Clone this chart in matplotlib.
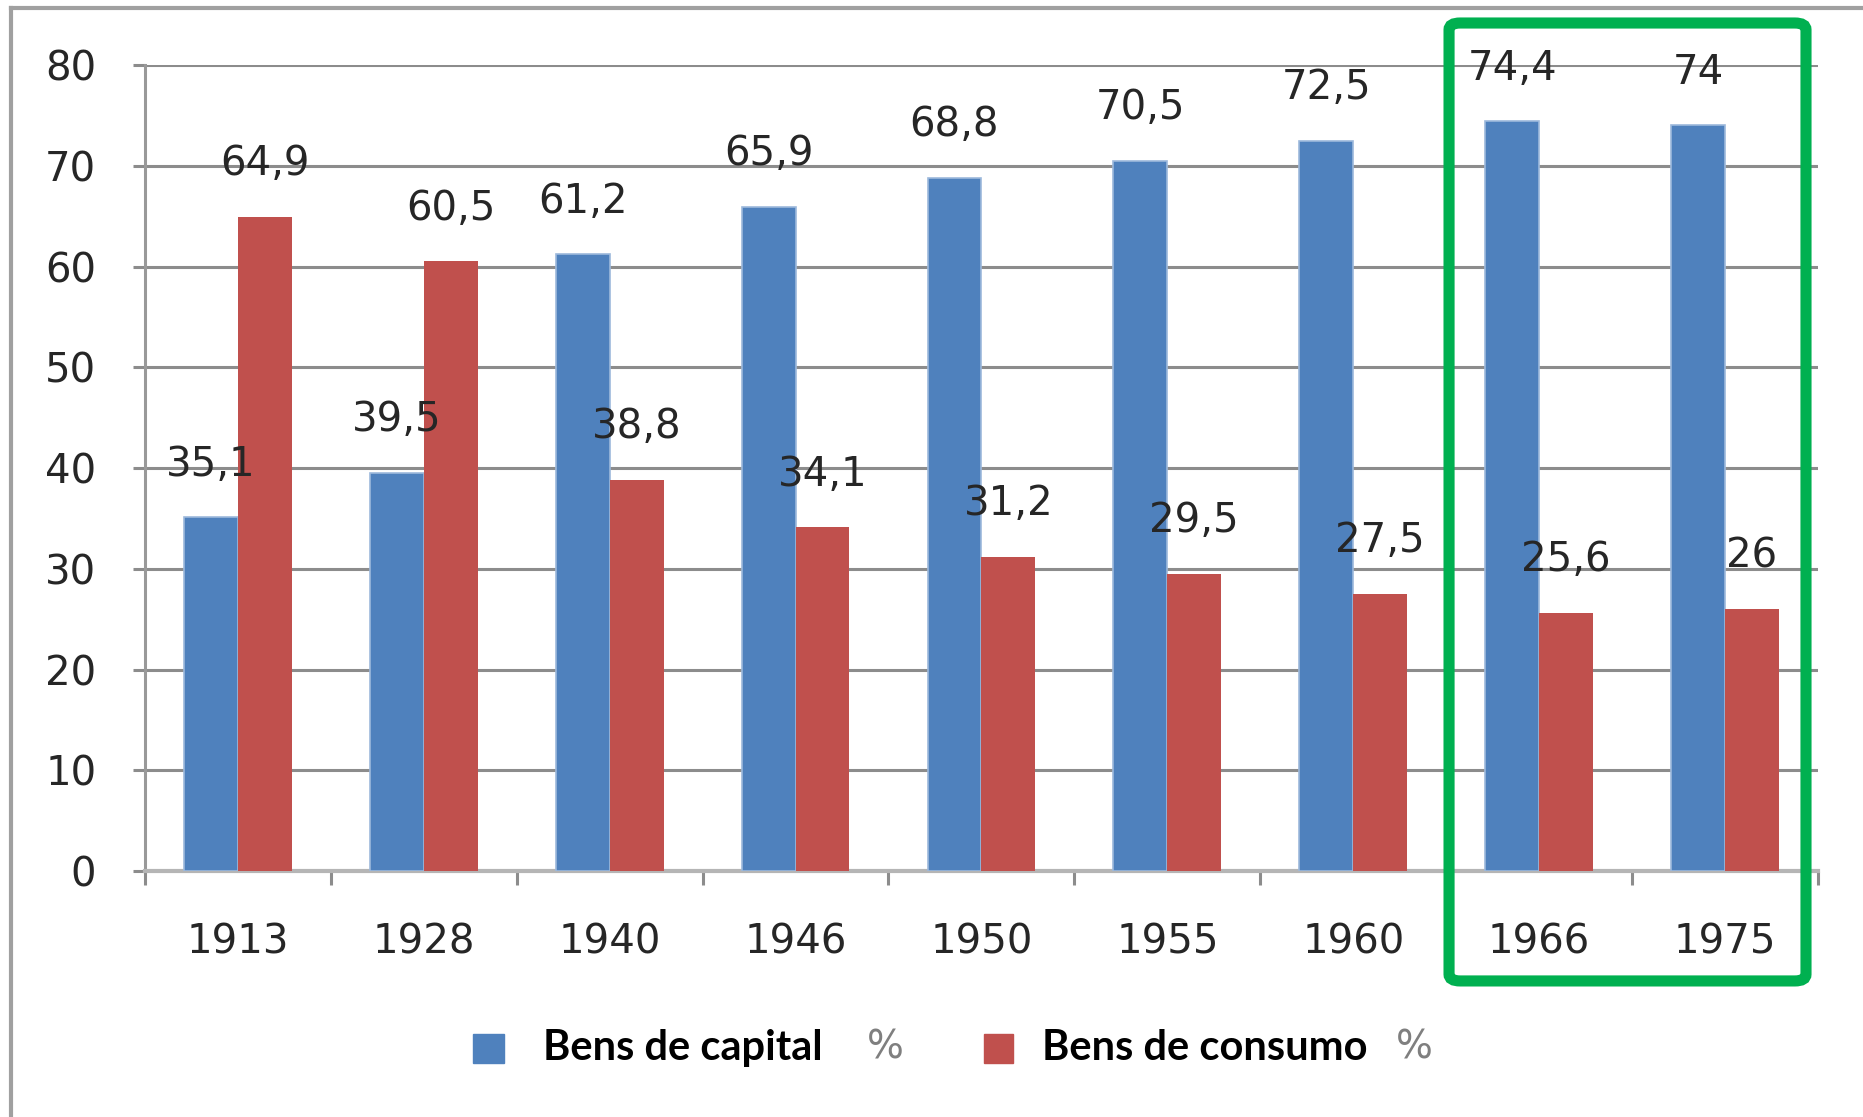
import matplotlib.pyplot as plt
import numpy as np
from matplotlib.lines import Line2D
from matplotlib.patches import FancyBboxPatch, Rectangle

# dados
anos = ["1913", "1928", "1940", "1946", "1950", "1955", "1960", "1966", "1975"]
bens_capital = [35.1, 39.5, 61.2, 65.9, 68.8, 70.5, 72.5, 74.4, 74.0]
bens_consumo = [64.9, 60.5, 38.8, 34.1, 31.2, 29.5, 27.5, 25.6, 26.0]
y_ticks = [0, 10, 20, 30, 40, 50, 60, 70, 80]

AZUL = "#4F81BD"
VERMELHO = "#C0504D"
TEXTO = "#262626"


def fmt(v):
    """Formato com vírgula decimal."""
    s = f"{v:.1f}".replace(".", ",")
    return s[:-2] if s.endswith(",0") else s


fig = plt.figure(figsize=(18.63, 11.17), dpi=100)
ax = fig.add_axes([0.0778, 0.2202, 0.898, 0.7216])

x = np.arange(len(anos))
w = 0.29
b1 = ax.bar(x - w / 2, bens_capital, w, color=AZUL, edgecolor="#9db9dc", linewidth=1.2, zorder=3)
b2 = ax.bar(x + w / 2, bens_consumo, w, color=VERMELHO, zorder=3)

for bars, vals in ((b1, bens_capital), (b2, bens_consumo)):
    for r, v in zip(bars, vals):
        ax.annotate(fmt(v), (r.get_x() + r.get_width() / 2, v), xytext=(0, 38),
                    textcoords="offset points", ha="center", va="center",
                    fontsize=29, color=TEXTO, zorder=5)

ax.set_xlim(-0.5, len(anos) - 0.5)
ax.set_ylim(0, 80)
ax.set_yticks(y_ticks)
ax.set_xticks(x)
ax.set_xticklabels(anos)
ax.set_xticks(np.arange(len(anos) + 1) - 0.5, minor=True)

ax.grid(axis="y", color="#8c8c8c", linewidth=2.2, zorder=0)
ax.set_axisbelow(True)
for s in ("top", "right"):
    ax.spines[s].set_visible(False)
ax.spines["left"].set_color("#999999")
ax.spines["left"].set_linewidth(2.2)
ax.spines["bottom"].set_color("#b5b5b5")
ax.spines["bottom"].set_linewidth(3)

ax.tick_params(axis="y", length=9, width=2.2, color="#8c8c8c", pad=26,
               labelsize=29, labelcolor=TEXTO)
ax.tick_params(axis="x", which="major", length=0, pad=37, labelsize=29, labelcolor=TEXTO)
ax.tick_params(axis="x", which="minor", length=10, width=2.2, color="#8c8c8c")

# moldura externa
fig.add_artist(Line2D([0.006, 0.006], [0, 0.993], color="#a0a0a0", linewidth=3))
fig.add_artist(Line2D([0.006, 1], [0.993, 0.993], color="#a0a0a0", linewidth=3))

# destaque verde
fig.add_artist(FancyBboxPatch((0.7778, 0.1218), 0.1916, 0.8576,
                              boxstyle="round,pad=0,rounding_size=0.006",
                              transform=fig.transFigure, fill=False,
                              edgecolor="#00B050", linewidth=8, zorder=10))

# legenda
fig.add_artist(Rectangle((0.2539, 0.0483), 0.0166, 0.026, color=AZUL, transform=fig.transFigure))
fig.text(0.2915, 0.0618, "Bens de capital", family="Lato", weight="bold", fontsize=30,
         va="center", color="black")
fig.text(0.4654, 0.0618, "%", fontsize=28, va="center", color="#7f7f7f")
fig.add_artist(Rectangle((0.5282, 0.0483), 0.0156, 0.026, color=VERMELHO, transform=fig.transFigure))
fig.text(0.5593, 0.0618, "Bens de consumo", family="Lato", weight="bold", fontsize=30,
         va="center", color="black")
fig.text(0.7493, 0.0618, "%", fontsize=28, va="center", color="#7f7f7f")

fig.savefig("out.png", dpi=100)
